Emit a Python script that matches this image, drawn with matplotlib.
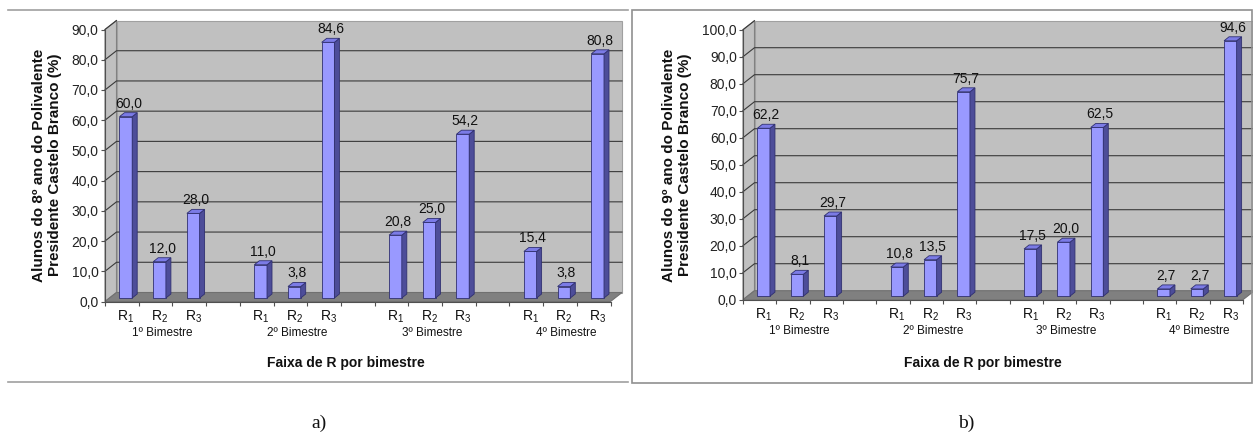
import numpy as np
import matplotlib
matplotlib.use("Agg")
import matplotlib.pyplot as plt
from matplotlib.patches import Polygon

plt.rcParams['font.family'] = ['Liberation Sans', 'DejaVu Sans']
plt.rcParams['mathtext.fontset'] = 'custom'
plt.rcParams['mathtext.rm'] = 'Liberation Sans'
plt.rcParams['mathtext.it'] = 'Liberation Sans:italic'

# dados
faixas = ["R$_1$", "R$_2$", "R$_3$"]
bimestres = ["1º Bimestre", "2º Bimestre", "3º Bimestre", "4º Bimestre"]
alunos_8 = [[60.0, 12.0, 28.0], [11.0, 3.8, 84.6], [20.8, 25.0, 54.2], [15.4, 3.8, 80.8]]
alunos_9 = [[62.2, 8.1, 29.7], [10.8, 13.5, 75.7], [17.5, 20.0, 62.5], [2.7, 2.7, 94.6]]
ylabel_8 = "Alunos do 8º ano do Polivalente\nPresidente Castelo Branco (%)"
ylabel_9 = "Alunos do 9º ano do Polivalente\nPresidente Castelo Branco (%)"
xlabel = "Faixa de R por bimestre"

W, H = 1253, 434
fig = plt.figure(figsize=(W / 100, H / 100), dpi=100)


def fmt(v):
    return "{:.1f}".format(v).replace(".", ",")


def panel(x0, x1, y0, ytop, ymax, valores, ylabel, xlab_cx, ylab_cx, letra, letra_cx):
    ax = fig.add_axes([x0 / W, 1 - y0 / H, (x1 - x0) / W, (y0 - ytop) / H])
    nslot = 15
    ax.set_xlim(-0.5, nslot - 0.5)
    ax.set_ylim(0, ymax)
    ax.patch.set_visible(False)
    pxx = (x1 - x0) / nslot
    pxy = (y0 - ytop) / ymax
    ddx, ddy = 11.5 / pxx, 9 / pxy      # profundidade das paredes
    fdx, fdy = 4 / pxx, 3.5 / pxy       # deslocamento da face frontal das barras
    bdx, bdy = 5 / pxx, 4 / pxy         # profundidade das barras
    xa, xb = -0.5, nslot - 0.5

    # paredes e piso
    ax.add_patch(Polygon([(xa, 0), (xa + ddx, ddy), (xa + ddx, ymax + ddy), (xa, ymax)],
                         fc='#c0c0c0', ec='#808080', lw=0.8, zorder=0, clip_on=False))
    ax.add_patch(Polygon([(xa + ddx, ddy), (xb + ddx, ddy), (xb + ddx, ymax + ddy), (xa + ddx, ymax + ddy)],
                         fc='#c0c0c0', ec='#a0a0a0', lw=0.8, zorder=0, clip_on=False))
    ax.add_patch(Polygon([(xa, 0), (xb, 0), (xb + ddx, ddy), (xa + ddx, ddy)],
                         fc='#808080', ec='#707070', lw=0.8, zorder=0.2, clip_on=False))
    for v in range(10, int(ymax) + 1, 10):
        ax.plot([xa, xa + ddx, xb + ddx] if v < ymax else [xa, xa + ddx],
                [v, v + ddy, v + ddy] if v < ymax else [v, v + ddy],
                color='#3a3a3a', lw=0.8, zorder=0.5, clip_on=False)

    # barras
    xs, vals = [], []
    for g, grupo in enumerate(valores):
        for c, v in enumerate(grupo):
            xs.append(4 * g + c)
            vals.append(v)
    xs = np.array(xs, dtype=float)
    vals = np.array(vals)
    w = 0.377
    ax.bar(xs + fdx, vals, width=w, bottom=fdy, color='#9999ff', edgecolor='#303070',
           lw=0.6, zorder=2, clip_on=False)
    for x, v in zip(xs, vals):
        xl, xr = x + fdx - w / 2, x + fdx + w / 2
        top = v + fdy
        ax.add_patch(Polygon([(xr, fdy), (xr + bdx, fdy + bdy), (xr + bdx, top + bdy), (xr, top)],
                             fc='#4d4d99', ec='#303070', lw=0.6, zorder=2, clip_on=False))
        ax.add_patch(Polygon([(xl, top), (xr, top), (xr + bdx, top + bdy), (xl + bdx, top + bdy)],
                             fc='#7b7be6', ec='#303070', lw=0.6, zorder=2, clip_on=False))
        ax.annotate(fmt(v), (x + fdx + bdx / 2, top + bdy), xytext=(0, 1.5),
                    textcoords='offset points', ha='center', va='bottom', fontsize=10,
                    color='#111111', zorder=3, annotation_clip=False)

    # eixos
    for s in ['top', 'right']:
        ax.spines[s].set_visible(False)
    for s in ['left', 'bottom']:
        ax.spines[s].set_color('#505050')
        ax.spines[s].set_linewidth(0.8)
        ax.spines[s].set_zorder(3)
    ax.set_yticks(np.arange(0, ymax + 1, 10))
    ax.set_yticklabels([fmt(v) for v in np.arange(0, ymax + 1, 10)])
    ax.set_xticks(np.arange(xa, xb + 0.01, 1))
    ax.set_xticklabels([])
    ax.tick_params(axis='both', length=3, width=0.8, color='#505050', direction='out',
                   labelsize=10, labelcolor='#222222', pad=1.5)

    trans = ax.get_xaxis_transform()
    for g, nome in enumerate(bimestres):
        for c, f in enumerate(faixas):
            ax.annotate(f, (4 * g + c + fdx, 0), xycoords=trans, xytext=(0, -15.5 * 0.72),
                        textcoords='offset points', ha='center', va='center', fontsize=10,
                        color='#111111', annotation_clip=False)
        ax.annotate(nome, (4 * g + 1 + 0.2, 0), xycoords=trans, xytext=(0, -31.5 * 0.72),
                    textcoords='offset points', ha='center', va='center', fontsize=8.5,
                    color='#111111', annotation_clip=False)

    fig.text(xlab_cx / W, 1 - 363 / H, xlabel, ha='center', va='center', fontsize=10,
             fontweight='bold', color='#111111')
    fig.text(ylab_cx / W, 1 - 165 / H, ylabel, ha='center', va='center', rotation=90,
             fontsize=11, fontweight='bold', color='#111111', linespacing=1.1,
             multialignment='center')
    fig.text(letra_cx / W, 1 - 423 / H, letra, ha='center', va='center', fontsize=14,
             family='Liberation Serif', color='#111111')
    return ax


panel(105, 610.5, 301.5, 29.5, 90, alunos_8, ylabel_8, 346, 47, "a)", 319)
panel(743, 1243, 299.7, 29.7, 100, alunos_9, ylabel_9, 983, 677, "b)", 966)

# molduras
fig.add_artist(plt.Line2D([8 / W, 628 / W], [1 - 10 / H, 1 - 10 / H], color='#a0a0a0', lw=1.2))
fig.add_artist(plt.Line2D([8 / W, 628 / W], [1 - 382 / H, 1 - 382 / H], color='#a0a0a0', lw=1.2))
fig.add_artist(plt.Rectangle((632 / W, 1 - 383 / H), (1252 - 632) / W, (383 - 10) / H,
                             fill=False, ec='#909090', lw=1.2))

fig.savefig("out.png", dpi=100)
